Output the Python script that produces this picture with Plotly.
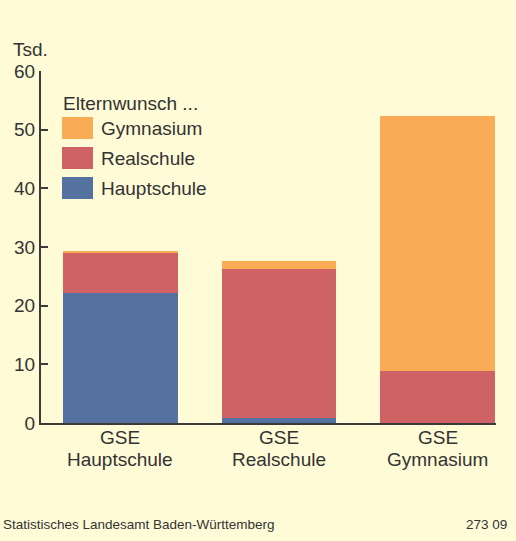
import plotly.graph_objects as go

categories = ["GSE<br>Hauptschule", "GSE<br>Realschule", "GSE<br>Gymnasium"]
hauptschule = [22.2, 0.9, 0.0]
realschule = [6.9, 25.3, 8.9]
gymnasium = [0.2, 1.4, 43.4]
series_names = ["Hauptschule", "Realschule", "Gymnasium"]
colors = {"Hauptschule": "#55719F", "Realschule": "#CF6265", "Gymnasium": "#F9AC55"}
y_ticks = [0, 10, 20, 30, 40, 50, 60]

W, H = 516, 541
L, R, T, B = 41, 20, 71, 118
pw, ph = W - L - R, H - T - B

def px(x):
    return (x - L) / pw

def py(y):
    return (H - B - y) / ph

xs = list(range(len(categories)))
fig = go.Figure()
for name, vals in zip(series_names, [hauptschule, realschule, gymnasium]):
    fig.add_trace(go.Bar(x=xs, y=vals, name=name, marker=dict(color=colors[name], line=dict(width=0)),
                         width=0.723, showlegend=False))

font_family = "Liberation Sans, Arial, sans-serif"
txt = "#333333"
axis_col = "#3A3A3A"
fs = 19

fig.update_layout(
    width=W, height=H, barmode="stack",
    paper_bgcolor="#FFFBD7", plot_bgcolor="#FFFBD7",
    margin=dict(l=L, r=R, t=T, b=B, autoexpand=False),
    font=dict(family=font_family, size=fs, color=txt),
    xaxis=dict(range=[-0.5, 2.368], tickvals=xs, showticklabels=False, showline=True,
               linecolor=axis_col, linewidth=2, ticks="", showgrid=False, zeroline=False),
    yaxis=dict(range=[0, 60], tickvals=y_ticks, showline=True, linecolor=axis_col, linewidth=2,
               ticks="inside", ticklen=7, tickwidth=2, tickcolor=axis_col, showgrid=False,
               zeroline=False, tickfont=dict(size=fs, color=txt)),
)

ann = []
# category labels (two lines, tighter spacing than plotly's default)
for xv, cat in zip(xs, categories):
    for j, line in enumerate(cat.split("<br>")):
        ann.append(dict(text=line, x=xv, y=py(437.5 + 21.5 * j), xref="x", yref="paper",
                        xanchor="center", yanchor="middle", showarrow=False,
                        font=dict(size=fs, color=txt)))
ann.append(dict(text="Tsd.", x=px(11), y=py(49), xref="paper", yref="paper", xanchor="left",
                yanchor="middle", showarrow=False, font=dict(size=fs, color=txt)))
ann.append(dict(text="Elternwunsch ...", x=px(61), y=py(103), xref="paper", yref="paper",
                xanchor="left", yanchor="middle", showarrow=False, font=dict(size=fs, color=txt)))
shapes = []
for i, name in enumerate(["Gymnasium", "Realschule", "Hauptschule"]):
    top = 117 + 30 * i
    shapes.append(dict(type="rect", xref="paper", yref="paper", x0=px(62), x1=px(93),
                       y0=py(top + 22), y1=py(top), fillcolor=colors[name], line=dict(width=0)))
    ann.append(dict(text=name, x=px(99), y=py(top + 11), xref="paper", yref="paper",
                    xanchor="left", yanchor="middle", showarrow=False, font=dict(size=fs, color=txt)))
ann.append(dict(text="Statistisches Landesamt Baden-Württemberg", x=px(1), y=py(524), xref="paper",
                yref="paper", xanchor="left", yanchor="middle", showarrow=False,
                font=dict(size=13.5, color=txt)))
ann.append(dict(text="273 09", x=px(509), y=py(524), xref="paper", yref="paper", xanchor="right",
                yanchor="middle", showarrow=False, font=dict(size=13.5, color=txt)))
fig.update_layout(annotations=ann, shapes=shapes)

fig.write_html("out.html", config={"displayModeBar": False},
               post_script="document.body.style.margin='0';document.body.style.overflow='hidden';")
